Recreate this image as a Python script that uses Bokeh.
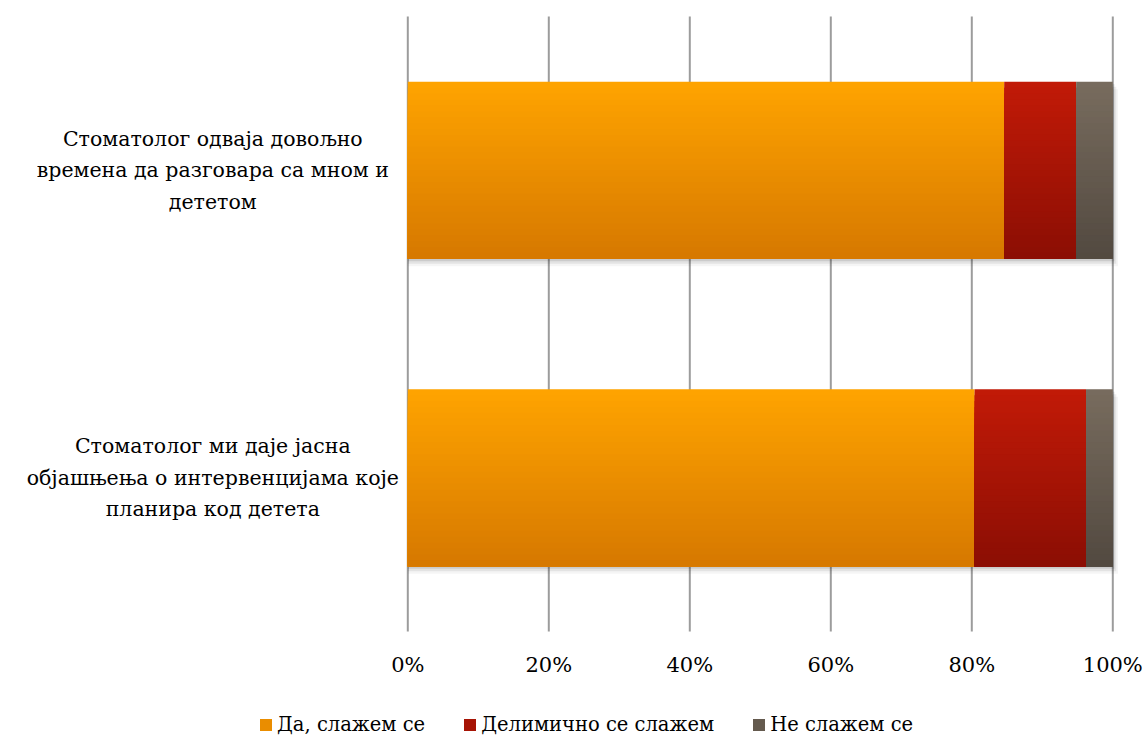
from bokeh.plotting import figure
from bokeh.models import Range1d, Legend, LegendItem
from bokeh.core.properties import value
from bokeh.embed import file_html
from bokeh.resources import INLINE

# ---------------- data ----------------
categories = [
    "Стоматолог одваја довољно времена да разговара са мном и дететом",
    "Стоматолог ми даје јасна објашњења о интервенцијама које планира код детета",
]
category_lines = [
    "Стоматолог одваја довољно\nвремена да разговара са мном и\nдететом",
    "Стоматолог ми даје јасна\nобјашњења о интервенцијама које\nпланира код детета",
]
series = ["Да, слажем се", "Делимично се слажем", "Не слажем се"]
da_values = [84.6, 80.4]
delimicno_values = [10.2, 15.8]
ne_values = [5.2, 3.8]
x_ticks = [0, 20, 40, 60, 80, 100]
x_tick_labels = ["0%", "20%", "40%", "60%", "80%", "100%"]

# ---------------- style ----------------
FONT = "DejaVu Serif"
FS = "21px"
FS_CAT = "20.5px"
FS_LEG = "19.5px"
grad = [("#FFA400", "#D67800"), ("#C21A07", "#8B0E04"), ("#786C5E", "#524940")]
BAR_H = 0.5756
N = 30
W, H = 1145, 736
PX_PER_PCT = 7.05
PX_PER_CAT = 307.5
ZERO_X = 407.3
TOP_EDGE = 16

n = len(categories)
# first category drawn at the top
ypos = [n - 1 - i for i in range(n)]
x0 = -ZERO_X / PX_PER_PCT
y1 = (n - 0.5) + TOP_EDGE / PX_PER_CAT
y0 = y1 - H / PX_PER_CAT

p = figure(width=W, height=H, output_backend="svg", toolbar_location=None,
           x_range=Range1d(x0, x0 + W / PX_PER_PCT), y_range=Range1d(y0, y1),
           min_border_left=0, min_border_right=0, min_border_top=0, min_border_bottom=0)
p.outline_line_color = None
p.background_fill_color = "white"
p.border_fill_color = "white"
p.axis.visible = False
p.grid.visible = False

# gridlines (value axis)
p.segment(x0=x_ticks, x1=x_ticks, y0=[-0.5] * len(x_ticks), y1=[n - 0.5] * len(x_ticks),
          line_color="#9c9c9c", line_width=2)

# tick labels
p.text(x=x_ticks, y=[-0.5] * len(x_ticks), text=x_tick_labels, y_offset=33,
       text_align="center", text_baseline="middle", text_font=value(FONT),
       text_font_size=FS, text_color="#000000")

# stacked extents
vals = [da_values, delimicno_values, ne_values]
rights = []
cum = [0.0] * n
for v in vals:
    new = [c + x for c, x in zip(cum, v)]
    rights.append(new)
    cum = new
lefts = [[0.0] * n] + rights[:-1]

# soft shadow under the bars
totals = rights[-1]
for k, a in enumerate([0.10, 0.07, 0.04]):
    off = (k + 1) * 0.008
    p.hbar(y=[yy - off for yy in ypos], left=[0.0] * n, right=[t + 0.25 * (k + 1) for t in totals],
           height=BAR_H, fill_color="#000000", fill_alpha=a, line_color=None)

def mix(c1, c2, t):
    a = [int(c1[i:i + 2], 16) for i in (1, 3, 5)]
    b = [int(c2[i:i + 2], 16) for i in (1, 3, 5)]
    return "#%02x%02x%02x" % tuple(round(a[j] + (b[j] - a[j]) * t) for j in range(3))

legend_items = []
for s, name in enumerate(series):
    mid_r = None
    for k in range(N):
        t_top = k / N
        t_col = (k + 0.5) / N
        top = BAR_H / 2 - t_top * BAR_H
        bot = -BAR_H / 2
        col = mix(grad[s][0], grad[s][1], t_col)
        r = p.hbar(y=[yy + (top + bot) / 2 for yy in ypos], left=lefts[s], right=rights[s],
                   height=top - bot, fill_color=col, line_color=None)
        if k == N // 2:
            mid_r = r
    legend_items.append(LegendItem(label=name, renderers=[mid_r]))

# category labels (centered, multi-line)
p.text(x=[x_ticks[0]] * n, y=ypos, text=category_lines, x_offset=-195,
       text_align="center", text_baseline="middle", text_font=value(FONT),
       text_font_size=FS_CAT, text_line_height=1.317, text_color="#000000")

legend = Legend(items=legend_items, orientation="horizontal", location=(258, 0),
                glyph_width=15, glyph_height=15, label_standoff=4, spacing=37,
                padding=0, margin=0, border_line_color=None, background_fill_alpha=0,
                label_text_font=FONT, label_text_font_size=FS_LEG, label_text_color="#000000")
p.add_layout(legend)

open("out.html", "w").write(file_html(p, INLINE))
